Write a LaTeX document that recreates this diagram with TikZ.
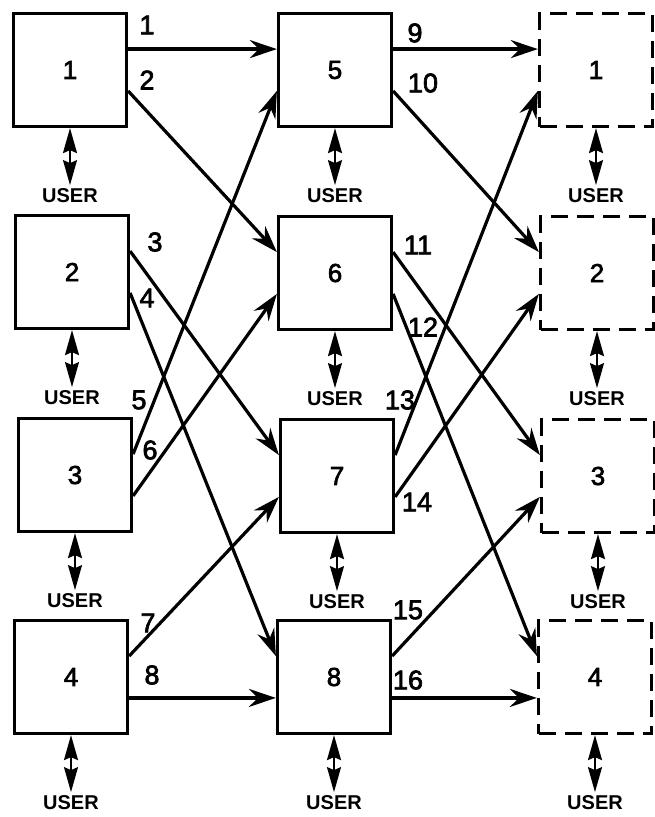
\documentclass[tikz,border=0pt]{standalone}
\usepackage{fontspec}
\setmainfont{Liberation Sans}
\newfontfamily\numfont[FakeBold=2.5]{Liberation Sans}
\usetikzlibrary{arrows.meta,calc}
\tikzset{
  sbox/.style={draw, line width=3.2pt, minimum width=113pt, minimum height=113pt, inner sep=0pt, font=\numfont\fontsize{26}{26}\selectfont},
  dbox/.style={sbox, dash pattern=on 17pt off 9pt},
  conn/.style={line width=3.2pt, -{Stealth[length=27pt,width=18pt,inset=9pt]}},
  userarr/.style={line width=1.8pt, {Stealth[length=25pt,width=14pt,inset=3pt]}-{Stealth[length=25pt,width=14pt,inset=3pt]}},
  usr/.style={font=\bfseries\fontsize{20}{20}\selectfont, inner sep=0pt},
  num/.style={font=\numfont\fontsize{27}{27}\selectfont, inner sep=0pt}
}
\begin{document}
\begin{tikzpicture}[x=1pt,y=-1pt]
\useasboundingbox (0,0) rectangle (655,817);
% boxes
\node[sbox] (b1) at (70,70) {1};
\node[sbox] (b2) at (72,272) {2};
\node[sbox] (b3) at (75,475) {3};
\node[sbox] (b4) at (71,677) {4};
\node[sbox] (b5) at (335,70) {5};
\node[sbox] (b6) at (335,273) {6};
\node[sbox] (b7) at (337,476) {7};
\node[sbox] (b8) at (334,677) {8};
\node[dbox] (d1) at (596,70) {1};
\node[dbox] (d2) at (597,273) {2};
\node[dbox] (d3) at (598,476) {3};
\node[dbox] (d4) at (595,677) {4};
% attachment points and user arrows
\foreach \n in {b1,b2,b3,b4,b5,b6,b7,b8,d1,d2,d3,d4}{
  \coordinate (\n-ru) at ($(\n.north east)!0.32!(\n.south east)$);
  \coordinate (\n-rl) at ($(\n.north east)!0.68!(\n.south east)$);
  \coordinate (\n-lu) at ($(\n.north west)!0.32!(\n.south west)$);
  \coordinate (\n-ll) at ($(\n.north west)!0.68!(\n.south west)$);
  \coordinate (\n-u) at ($(\n.south)+(0,57)$);
  \draw[userarr] (\n.south) -- (\n-u);
  \node[usr,anchor=north] (\n-user) at ($(\n-u)+(0,3)$) {USER};
}
% connectors
\draw[conn] (b1-ru) -- (b5-lu);
\draw[conn] (b1-rl) -- (b6-lu);
\draw[conn] (b2-ru) -- (b7-lu);
\draw[conn] (b2-rl) -- (b8-lu);
\draw[conn] (b3-ru) -- (b5-ll);
\draw[conn] (b3-rl) -- (b6-ll);
\draw[conn] (b4-ru) -- (b7-ll);
\draw[conn] (b4-rl) -- (b8-ll);
\draw[conn] (b5-ru) -- (d1-lu);
\draw[conn] (b5-rl) -- (d2-lu);
\draw[conn] (b6-ru) -- (d3-lu);
\draw[conn] (b6-rl) -- (d4-lu);
\draw[conn] (b7-ru) -- (d1-ll);
\draw[conn] (b7-rl) -- (d2-ll);
\draw[conn] (b8-ru) -- (d3-ll);
\draw[conn] (b8-rl) -- (d4-ll);
% labels
\node[num] (l1) at (147,25) {1};
\node[num] (l2) at (147,80) {2};
\node[num] (l3) at (155,242) {3};
\node[num] (l4) at (147,298) {4};
\node[num] (l5) at (139,400) {5};
\node[num] (l6) at (150,450) {6};
\node[num] (l7) at (148,623) {7};
\node[num] (l8) at (152,675) {8};
\node[num] (l9) at (415,33) {9};
\node[num] (l10) at (423,83) {10};
\node[num] (l11) at (418,245) {11};
\node[num] (l12) at (423,327) {12};
\node[num] (l13) at (400,400) {13};
\node[num] (l14) at (417,502) {14};
\node[num] (l15) at (408,610) {15};
\node[num] (l16) at (408,680) {16};
\end{tikzpicture}
\end{document}
